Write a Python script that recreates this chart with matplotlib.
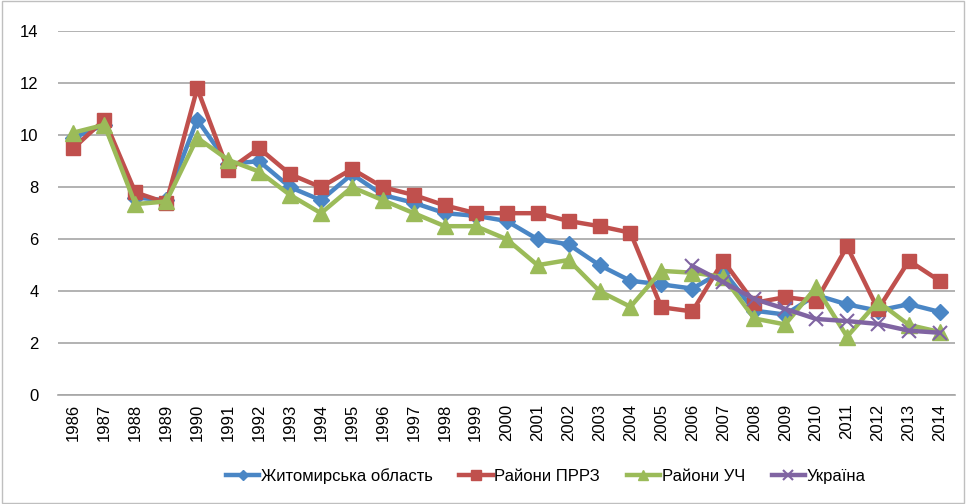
import matplotlib
matplotlib.use("Agg")
import matplotlib.pyplot as plt
from matplotlib.patches import Rectangle

years = list(range(1986, 2015))

zhytomyr = [9.9, 10.4, 7.6, 7.5, 10.6, 8.9, 9.0, 8.0, 7.5, 8.5,
            7.7, 7.4, 7.0, 6.9, 6.7, 6.0, 5.8, 5.0, 4.4, 4.26,
            4.1, 4.78, 3.25, 3.1, 3.85, 3.49, 3.25, 3.5, 3.2]
prrz = [9.5, 10.6, 7.8, 7.4, 11.8, 8.65, 9.5, 8.5, 8.0, 8.7,
        8.0, 7.7, 7.3, 7.0, 7.0, 7.0, 6.7, 6.5, 6.25, 3.38,
        3.22, 5.17, 3.55, 3.77, 3.62, 5.72, 3.3, 5.17, 4.39]
uch = [10.1, 10.4, 7.35, 7.45, 9.9, 9.05, 8.6, 7.7, 7.0, 8.0,
       7.5, 7.0, 6.5, 6.5, 6.0, 5.0, 5.2, 4.0, 3.4, 4.78,
       4.71, 4.55, 2.95, 2.72, 4.15, 2.25, 3.6, 2.7, 2.43]
ukr_years = list(range(2006, 2015))
ukraine = [4.97, 4.35, 3.7, 3.32, 2.93, 2.85, 2.74, 2.48, 2.4]

labels = ["Житомирська область", "Райони ПРРЗ", "Райони УЧ", "Україна"]

plt.rcParams['font.family'] = ['Liberation Sans', 'DejaVu Sans']

fig = plt.figure(figsize=(9.66, 5.04), dpi=100)
ax = fig.add_axes([0.060, 0.216, 0.929, 0.722])

ax.plot(years, zhytomyr, color="#4A86C5", lw=3.2, marker="D", ms=8, label=labels[0], zorder=3)
ax.plot(years, prrz, color="#C0504D", lw=3.2, marker="s", ms=10, label=labels[1], zorder=3)
ax.plot(years, uch, color="#9BBB59", lw=3.2, marker="^", ms=11, label=labels[2], zorder=4)
ax.plot(ukr_years, ukraine, color="#8064A2", lw=3.2, marker="x", ms=10, mew=1.5, label=labels[3], zorder=5)

ax.set_xlim(1985.5, 2014.5)
ax.set_ylim(0, 14)
ax.set_yticks(range(0, 15, 2))
ax.set_xticks(years)
ax.set_xticklabels([str(y) for y in years], rotation=90, fontsize=12)
ax.tick_params(axis="y", labelsize=12, length=0, pad=14)
ax.tick_params(axis="x", length=0, pad=6)
ax.grid(axis="y", color="#A6A6A6", lw=1.2)
ax.set_axisbelow(True)
for s in ["top", "right", "left"]:
    ax.spines[s].set_visible(False)
ax.spines["bottom"].set_color("#A6A6A6")
ax.spines["bottom"].set_linewidth(1.2)

fig.legend(loc="center", bbox_to_anchor=(0.565, 0.055), ncol=4, frameon=False,
           fontsize=12, handlelength=2.0, handletextpad=0.1, columnspacing=1.6,
           markerscale=0.7)

fig.patches.append(Rectangle((0.002, 0.002), 0.996, 0.996, transform=fig.transFigure,
                             fill=False, edgecolor="#BFBFBF", lw=1))

fig.savefig("out.png", dpi=100)
